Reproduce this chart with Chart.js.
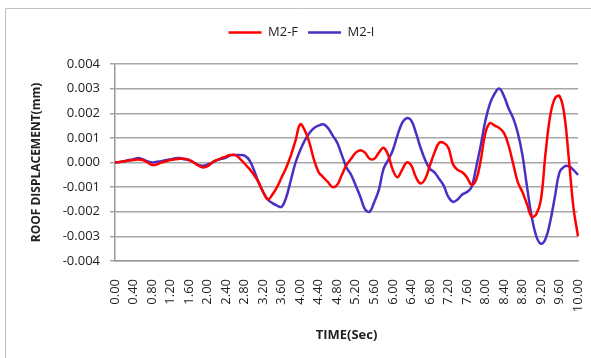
<!DOCTYPE html>
<html>
<head>
<meta charset="utf-8">
<script src="https://cdn.jsdelivr.net/npm/chart.js@4/dist/chart.umd.min.js"></script>
<style>
  html, body { margin: 0; padding: 0; background: #fff; }
  #wrap { width: 591px; height: 358px; }
</style>
</head>
<body>
<div id="wrap"><canvas id="roofChart"></canvas></div>
<script>
// time in seconds, one sample every 0.1 s
const times = [
    0.0, 0.1, 0.2, 0.3, 0.4, 0.5, 0.6, 0.7, 0.8, 0.9,
    1.0, 1.1, 1.2, 1.3, 1.4, 1.5, 1.6, 1.7, 1.8, 1.9,
    2.0, 2.1, 2.2, 2.3, 2.4, 2.5, 2.6, 2.7, 2.8, 2.9,
    3.0, 3.1, 3.2, 3.3, 3.4, 3.5, 3.6, 3.7, 3.8, 3.9,
    4.0, 4.1, 4.2, 4.3, 4.4, 4.5, 4.6, 4.7, 4.8, 4.9,
    5.0, 5.1, 5.2, 5.3, 5.4, 5.5, 5.6, 5.7, 5.8, 5.9,
    6.0, 6.1, 6.2, 6.3, 6.4, 6.5, 6.6, 6.7, 6.8, 6.9,
    7.0, 7.1, 7.2, 7.3, 7.4, 7.5, 7.6, 7.7, 7.8, 7.9,
    8.0, 8.1, 8.2, 8.3, 8.4, 8.5, 8.6, 8.7, 8.8, 8.9,
    9.0, 9.1, 9.2, 9.3, 9.4, 9.5, 9.6, 9.7, 9.8, 9.9,
    10.0
];

const m2f = [
    0, 0.00002, 0.00005, 0.00008, 0.0001, 0.00012, 0.0001, 0.0, -0.0001, -0.00008,
    0.0, 0.00005, 0.0001, 0.00013, 0.00015, 0.00015, 0.0001, 0.0, -0.00012, -0.0002,
    -0.00015, 0.0, 0.0001, 0.00018, 0.00025, 0.0003, 0.0003, 0.00015, -0.00005, -0.00025,
    -0.0005, -0.0008, -0.0012, -0.0015, -0.0013, -0.001, -0.0006, -0.0002, 0.0003, 0.0009,
    0.00155, 0.0013, 0.0008, 0.0001, -0.0004, -0.0006, -0.0008, -0.001, -0.0009, -0.0005,
    -0.0001, 0.00015, 0.0004, 0.0005, 0.0004, 0.00015, 0.00015, 0.0004, 0.0006, 0.0003,
    -0.0003, -0.0006, -0.0003, 0.0, -0.00013, -0.0006, -0.00085, -0.00066, -0.00013, 0.0004,
    0.0008, 0.0008, 0.0006, -0.00007, -0.0003, -0.0004, -0.0006, -0.0009, -0.0007, 0.0001,
    0.0012, 0.0016, 0.0015, 0.0014, 0.0012, 0.0007, -0.00005, -0.0008, -0.0012, -0.0017,
    -0.0022, -0.0021, -0.0015, 0.0004, 0.0019, 0.0026, 0.0027, 0.002, 0.0002, -0.0018,
    -0.003
];

const m2i = [
    0, 0.00002, 0.00005, 0.0001, 0.00013, 0.00018, 0.00013, 0.00005, 0.0, 0.00003,
    0.00005, 0.0001, 0.00013, 0.00017, 0.00018, 0.00013, 0.0001, 0.0, -0.0001, -0.00013,
    -0.00008, 0.0, 0.0001, 0.00015, 0.0002, 0.0003, 0.0003, 0.0003, 0.00028, 0.0001,
    -0.0003, -0.0008, -0.0012, -0.0015, -0.00165, -0.00175, -0.0018, -0.0014, -0.0007, 0.0,
    0.0005, 0.0009, 0.0012, 0.0014, 0.0015, 0.00155, 0.0014, 0.0011, 0.0008, 0.0003,
    -0.0002, -0.0005, -0.00094, -0.0014, -0.0019, -0.002, -0.0016, -0.0011, -0.00026, 0.0001,
    0.0005, 0.0011, 0.0016, 0.0018, 0.0017, 0.0012, 0.0006, 0.0001, -0.00025, -0.0004,
    -0.00066, -0.00094, -0.0014, -0.0016, -0.0015, -0.0013, -0.0012, -0.001, -0.0002, 0.0007,
    0.0017, 0.0024, 0.0028, 0.003, 0.0027, 0.0022, 0.0018, 0.0012, 0.0003, -0.001,
    -0.0022, -0.003, -0.0033, -0.0031, -0.0024, -0.0014, -0.0004, -0.00017, -0.00015, -0.0003,
    -0.0005
];

const yTicks = [-0.004, -0.003, -0.002, -0.001, 0, 0.001, 0.002, 0.003, 0.004];

const font = "'Open Sans', 'DejaVu Sans', sans-serif";

// thin frame round the chart, like the spreadsheet chart box
const framePlugin = {
    id: 'frame',
    beforeDraw(chart) {
        const ctx = chart.ctx;
        ctx.save();
        ctx.strokeStyle = '#bfbfbf';
        ctx.lineWidth = 1;
        ctx.beginPath();
        ctx.moveTo(5.5, 358);
        ctx.lineTo(5.5, 8.5);
        ctx.lineTo(591, 8.5);
        ctx.stroke();
        ctx.restore();
    }
};

// push the plot down a bit below the legend
const legendGap = {
    id: 'legendGap',
    beforeInit(chart) {
        const fit = chart.legend.fit;
        chart.legend.fit = function () {
            fit.bind(chart.legend)();
            this.height += 15;
        };
    }
};

Chart.defaults.font.family = font;
Chart.defaults.color = '#222';

const ctx = document.getElementById('roofChart').getContext('2d');
const roofChart = new Chart(ctx, {
    type: 'line',
    data: {
        labels: times.map(t => t.toFixed(2)),
        datasets: [
            {
                label: 'M2-F',
                data: m2f,
                borderColor: '#ff0000',
                backgroundColor: '#ff0000',
                borderWidth: 2.5,
                pointRadius: 0,
                tension: 0.4,
                fill: false
            },
            {
                label: 'M2-I',
                data: m2i,
                borderColor: '#4b2fc4',
                backgroundColor: '#4b2fc4',
                borderWidth: 2.5,
                pointRadius: 0,
                tension: 0.4,
                fill: false
            }
        ]
    },
    options: {
        responsive: true,
        maintainAspectRatio: false,
        animation: false,
        layout: {
            padding: { left: 25, right: 13, top: 16, bottom: 11 }
        },
        plugins: {
            legend: {
                position: 'top',
                labels: {
                    usePointStyle: true,
                    pointStyle: 'line',
                    pointStyleWidth: 33,
                    boxHeight: 13,
                    padding: 10,
                    font: { size: 13 },
                    color: '#222'
                }
            },
            tooltip: { enabled: false }
        },
        scales: {
            x: {
                type: 'category',
                offset: false,
                grid: { display: false, drawTicks: false },
                border: { display: true, color: '#9a9a9a', width: 1.5 },
                ticks: {
                    autoSkip: false,
                    maxRotation: 90,
                    minRotation: 90,
                    padding: 18,
                    font: { size: 13 },
                    color: '#222',
                    callback: function (value, index) {
                        return index % 4 === 0 ? times[index].toFixed(2) : null;
                    }
                },
                title: {
                    display: true,
                    text: 'TIME(Sec)',
                    font: { size: 13, weight: 'bold' },
                    color: '#222'
                },
                afterFit(scale) {
                    scale.height = 86;
                    scale.paddingRight = 0;
                }
            },
            y: {
                min: -0.004,
                max: 0.004,
                afterBuildTicks(scale) {
                    scale.ticks = yTicks.map(v => ({ value: v }));
                },
                grid: { color: '#a6a6a6', lineWidth: 1.5, tickLength: 5 },
                border: { display: true, color: '#9a9a9a', width: 1.5 },
                ticks: {
                    padding: 10,
                    font: { size: 13 },
                    color: '#222',
                    callback: v => (Math.abs(v) < 1e-9 ? 0 : v).toFixed(3)
                },
                title: {
                    display: true,
                    text: 'ROOF DISPLACEMENT(mm)',
                    font: { size: 12, weight: 'bold' },
                    color: '#222'
                },
                afterFit(scale) { scale.width = 90; }
            }
        }
    },
    plugins: [framePlugin, legendGap]
});
</script>
</body>
</html>
